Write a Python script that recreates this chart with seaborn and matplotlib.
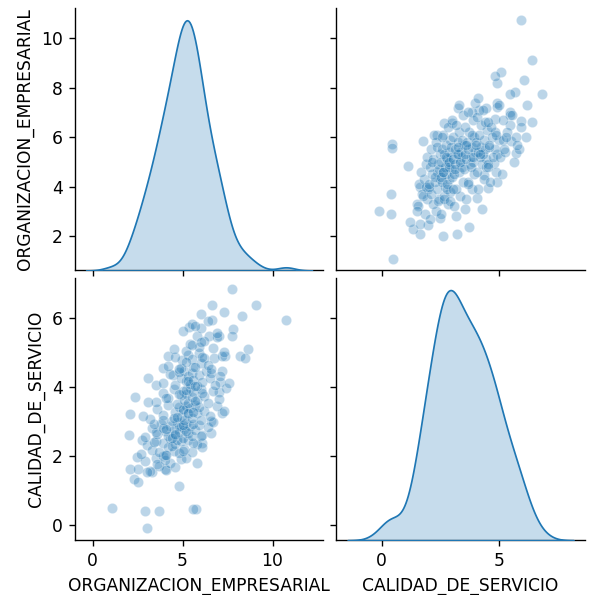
import numpy as np
import pandas as pd
import matplotlib
matplotlib.use("Agg")
import matplotlib.pyplot as plt
import seaborn as sns

# Sparse / outer points
sparse_org = [7.74, 9.1, 6.61, 6.0, 7.28, 8.29, 10.75, 6.65, 7.83, 5.37, 5.83, 6.47, 7.01, 7.74,
              8.65, 8.2, 8.47, 7.38, 6.74, 7.19, 7.1, 7.01, 7.19, 6.56, 6.56, 6.1, 5.83, 5.74,
              4.19, 4.97, 5.9, 3.93, 3.1, 3.55, 4.46, 2.35, 2.1, 2.0, 2.73, 2.46, 2.1, 2.28,
              2.55, 4.83, 1.09, 2.91, 3.7, 5.56, 3.0, 3.28, 4.0]
sparse_cal = [6.84, 6.39, 6.39, 6.14, 6.19, 6.06, 5.94, 5.94, 5.69, 5.74, 5.5, 5.48, 5.48, 5.48,
              5.1, 4.9, 4.85, 4.9, 4.85, 4.46, 4.16, 3.86, 3.26, 3.02, 2.67, 2.37, 1.78, 0.44,
              4.91, 4.8, 5.0, 4.55, 4.26, 4.06, 4.35, 3.72, 3.21, 2.62, 2.47, 1.97, 1.63, 1.33,
              1.23, 1.13, 0.49, 0.39, 0.39, 0.44, -0.11, 1.53, 1.63]

# Dense core (estimated from the crowded centre of the scatter)
core_org = [
    2.5, 2.9, 3.2, 3.5, 3.7, 3.9, 4.1, 4.3, 4.6, 4.9, 3.0, 3.6, 4.0, 5.2,
    2.7, 3.0, 3.3, 3.5, 3.7, 3.9, 4.0, 4.2, 4.3, 4.5, 4.6, 4.8, 4.9, 5.1, 5.3, 5.5, 5.8, 6.1, 3.4, 4.1,
    4.4, 4.7, 5.0, 5.6,
    2.9, 3.3, 3.6, 3.8, 4.0, 4.2, 4.3, 4.5, 4.6, 4.7, 4.8, 4.9, 5.0, 5.1, 5.2, 5.3, 5.4, 5.5, 5.7, 5.9,
    6.1, 6.4, 6.7, 3.5, 4.4, 4.8, 5.2, 5.6, 6.0, 3.9, 4.1, 5.0, 4.6, 3.4,
    3.2, 3.6, 3.9, 4.2, 4.4, 4.6, 4.8, 4.9, 5.0, 5.1, 5.2, 5.3, 5.4, 5.5, 5.7, 5.8, 6.0, 6.2, 6.5, 6.9,
    4.5, 5.0, 5.3, 5.9, 2.8, 7.3, 4.7, 5.6, 3.9,
    3.5, 3.9, 4.2, 4.5, 4.7, 4.9, 5.0, 5.1, 5.2, 5.3, 5.4, 5.5, 5.6, 5.8, 6.0, 6.2, 6.4, 6.7, 7.0, 4.8,
    5.2, 5.7, 6.1, 4.1, 7.4, 3.1,
    3.9, 4.3, 4.6, 4.9, 5.1, 5.2, 5.3, 5.4, 5.5, 5.6, 5.8, 5.9, 6.1, 6.3, 6.5, 6.8, 7.1, 4.8, 5.3, 5.7,
    6.6, 7.6,
    4.2, 4.6, 4.9, 5.3, 5.5, 5.6, 6.0, 6.2, 6.4, 6.6, 7.2, 5.2, 5.7, 6.1, 4.8,
    4.5, 5.2, 5.4, 5.9, 6.2, 6.9, 5.5, 6.0, 6.7, 7.3,
    5.0, 5.5, 6.0, 6.4, 6.9, 5.7,
]
core_cal = [
    1.62, 1.85, 1.55, 1.93, 1.71, 1.98, 1.58, 1.80, 1.66, 1.90, 1.52, 1.77, 1.88, 1.95,
    2.05, 2.31, 2.18, 2.44, 2.12, 2.38, 2.02, 2.27, 2.49, 2.15, 2.35, 2.08, 2.42, 2.21, 2.47, 2.10, 2.33,
    2.25, 2.40, 2.03, 2.29, 2.46, 2.14, 2.37,
    2.55, 2.81, 2.64, 2.92, 2.71, 2.58, 2.88, 2.76, 2.62, 2.97, 2.69, 2.84, 2.53, 2.79, 2.95, 2.66, 2.87,
    2.59, 2.74, 2.90, 2.61, 2.83, 2.98, 2.68, 2.52, 2.86, 2.73, 2.94, 2.57, 2.80, 2.77, 2.89, 2.63, 2.93,
    3.08, 3.36, 3.19, 3.47, 3.02, 3.28, 3.41, 3.13, 3.33, 3.05, 3.44, 3.22, 3.38, 3.11, 3.49, 3.25, 3.03,
    3.31, 3.17, 3.45, 3.09, 3.35, 3.24, 3.42, 3.15, 3.29, 3.14, 3.27, 3.04,
    3.58, 3.84, 3.67, 3.93, 3.52, 3.76, 3.89, 3.61, 3.81, 3.55, 3.97, 3.70, 3.86, 3.63, 3.95, 3.73, 3.54,
    3.88, 3.66, 3.79, 3.91, 3.60, 3.83, 3.69, 3.98, 3.57,
    4.12, 4.38, 4.05, 4.27, 4.46, 4.18, 4.33, 4.09, 4.41, 4.22, 4.03, 4.36, 4.15, 4.48, 4.25, 4.07, 4.31,
    4.44, 4.19, 4.02, 4.40, 4.11,
    4.62, 4.88, 4.55, 4.93, 4.82, 4.58, 4.71, 4.85, 4.64, 4.52, 4.91, 4.73, 4.59, 4.87, 4.54,
    5.12, 5.05, 5.26, 5.18, 5.33, 5.47, 5.21, 5.30, 5.15, 5.02,
    5.62, 5.85, 5.71, 5.93, 5.57, 5.78,
]

df = pd.DataFrame({
    "ORGANIZACION_EMPRESARIAL": sparse_org + core_org,
    "CALIDAD_DE_SERVICIO": sparse_cal + core_cal,
})

DPI = 123
g = sns.pairplot(df, diag_kind="kde", height=2.5, plot_kws={"alpha": 0.3})
g.figure.set_size_inches(589 / DPI, 595 / DPI)
g.figure.subplots_adjust(left=0.127, right=0.993, top=0.987, bottom=0.092,
                         wspace=0.052, hspace=0.027)
g.figure.savefig("out.png", dpi=DPI)
